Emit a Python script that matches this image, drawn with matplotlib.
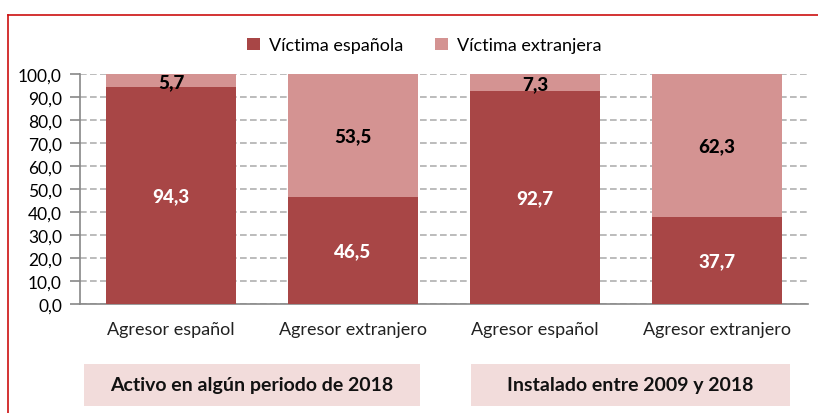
import matplotlib.pyplot as plt
import numpy as np
from matplotlib.patches import Rectangle
from matplotlib.lines import Line2D

plt.rcParams['font.family'] = ['Lato', 'DejaVu Sans']

categorias = ['Agresor español', 'Agresor extranjero', 'Agresor español', 'Agresor extranjero']
victima_espanola = [94.3, 46.5, 92.7, 37.7]
victima_extranjera = [5.7, 53.5, 7.3, 62.3]
grupos = ['Activo en algún periodo de 2018', 'Instalado entre 2009 y 2018']
series = ['Víctima española', 'Víctima extranjera']

c_osc = '#A84646'
c_cla = '#D49392'

fig = plt.figure(figsize=(8.18, 4.14), dpi=100)
ax = fig.add_axes([80 / 818, 1 - 305 / 414, 728 / 818, 230 / 414])

x = np.arange(len(categorias))
ax.bar(x, victima_espanola, width=0.71, color=c_osc, label=series[0], zorder=3)
ax.bar(x, victima_extranjera, width=0.71, bottom=victima_espanola, color=c_cla,
       label=series[1], zorder=3)

for i in range(len(x)):
    ax.text(x[i], victima_espanola[i] / 2, f'{victima_espanola[i]:.1f}'.replace('.', ','),
            ha='center', va='center', color='white', fontsize=13.5, fontweight='black', zorder=4)
    if victima_extranjera[i] < 10:
        yy = 100 - victima_extranjera[i] / 2 - 0.5
    else:
        yy = victima_espanola[i] + victima_extranjera[i] / 2
    ax.text(x[i], yy, f'{victima_extranjera[i]:.1f}'.replace('.', ','),
            ha='center', va='center', color='black', fontsize=13.5, fontweight='black', zorder=4)

ax.set_xlim(-0.5, len(x) - 0.5)
ax.set_ylim(0, 100)
ax.set_yticks(np.arange(0, 101, 10))
ax.set_yticklabels([f'{v:.1f}'.replace('.', ',') for v in np.arange(0, 101, 10)], fontsize=12.5)
ax.set_xticks(x)
ax.set_xticklabels(categorias, fontsize=13, color='#222222')
ax.tick_params(axis='x', length=0, pad=12)
ax.tick_params(axis='y', length=7, color='#888888', width=1.2, pad=6)
ax.yaxis.grid(True, linestyle=(0, (4, 2)), color='#B0B0B0', linewidth=1.2, zorder=0)
for s in ['top', 'right']:
    ax.spines[s].set_visible(False)
ax.spines['left'].set_color('#888888')
ax.spines['left'].set_linewidth(1.2)
ax.spines['bottom'].set_color('#888888')
ax.spines['bottom'].set_linewidth(1.2)

ax.legend(loc='upper center', bbox_to_anchor=(0.473, 1.23), ncol=2, frameon=False,
          fontsize=13, handlelength=0.7, handleheight=0.7, columnspacing=1.8, handletextpad=0.5)

# cajas de grupo
cajas = [(84, 420), (471, 790)]
for (x0, x1), g in zip(cajas, grupos):
    fig.patches.append(Rectangle((x0 / 818, 1 - 407 / 414), (x1 - x0) / 818, 42 / 414,
                                 transform=fig.transFigure, facecolor='#F2DCDB', edgecolor='none'))
    fig.text((x0 + x1) / 2 / 818, 1 - 386 / 414, g, ha='center', va='center',
             fontsize=14, fontweight='bold', color='#111111')

# marco rojo
fig.lines.append(Line2D([8 / 818, 1], [1 - 16 / 414, 1 - 16 / 414], transform=fig.transFigure,
                        color='#CC1111', linewidth=1.2))
fig.lines.append(Line2D([8 / 818, 8 / 818], [0, 1 - 16 / 414], transform=fig.transFigure,
                        color='#CC1111', linewidth=1.2))

fig.savefig('out.png', dpi=100)
